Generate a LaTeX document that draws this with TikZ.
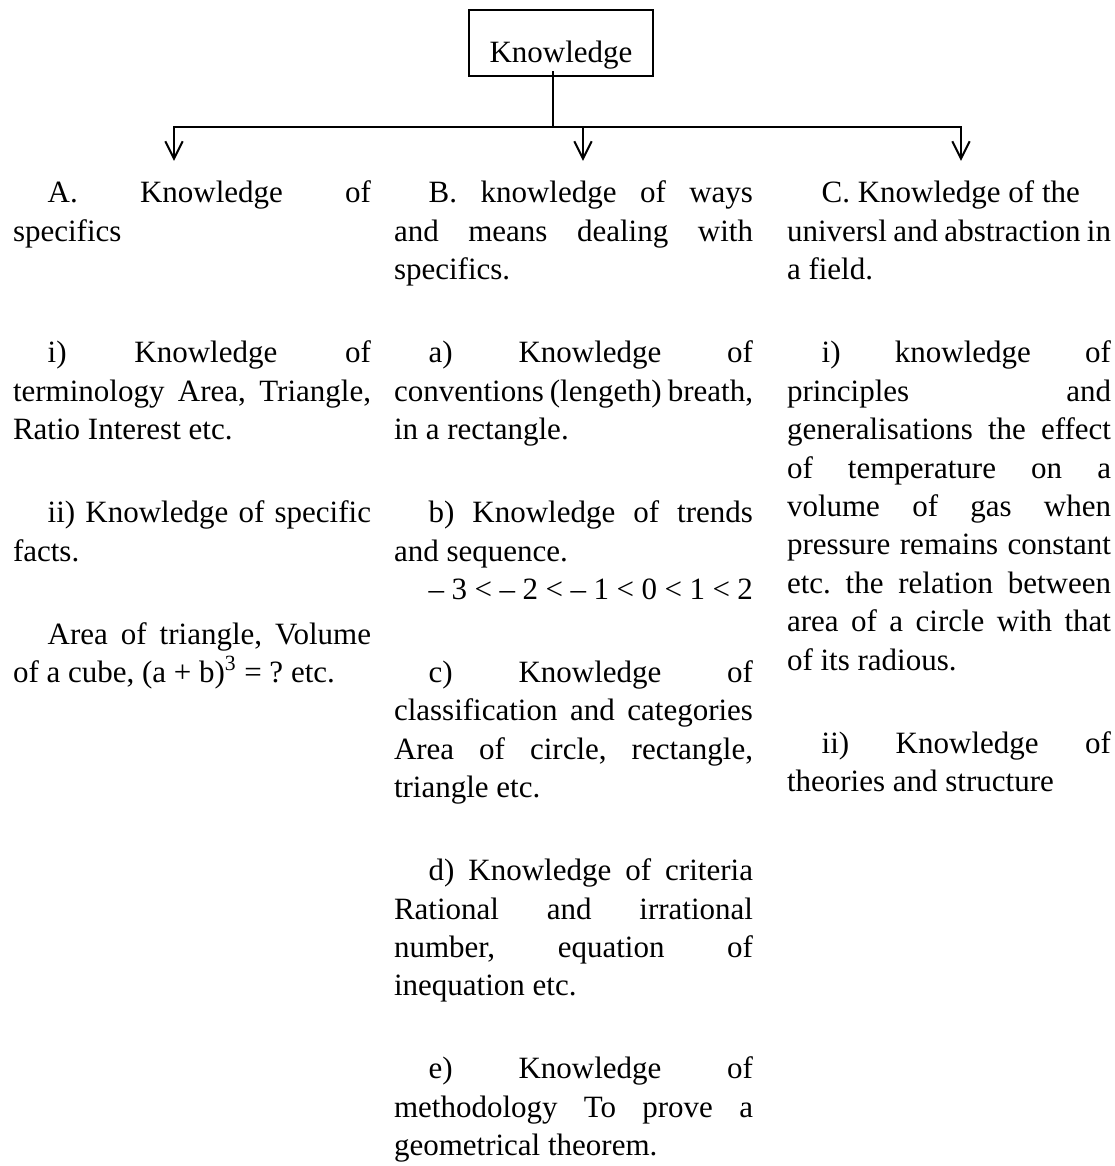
\documentclass[tikz,border=0pt]{standalone}
\usepackage{fontspec}
\setmainfont{Liberation Serif}
\usepackage{tikz}
\usetikzlibrary{arrows.meta}
\setlength{\parindent}{0pt}
\tolerance=9999
\hyphenpenalty=10000
\frenchspacing
\newcommand{\knowfont}{\fontsize{23.25pt}{28.8pt}\selectfont}
\newcommand{\ind}{\hspace*{26pt}}

\begin{document}
\begin{tikzpicture}[x=0.75pt,y=0.75pt,yscale=-1,xscale=1,line width=1.5pt,
  txt/.style={anchor=base west,inner sep=0pt,align=justify,font=\knowfont},
  colA/.style={txt,text width=268.5pt},
  colB/.style={txt,text width=269.25pt},
  colC/.style={txt,text width=243pt},
  kbox/.style={draw,line width=1.6pt,inner sep=0pt,minimum width=138pt,minimum height=49.5pt,text height=33.75pt,text depth=5pt,font=\knowfont},
  down/.style={-{Straight Barb[length=13pt,width=13pt]},shorten >=14.5pt}]
\useasboundingbox (0,0) rectangle (1114,1166);

%Rect
\node[kbox] (know) at (561,43) {Knowledge};

% Text Node
\node[colA] (headA) at (12,203) {\ind A. Knowledge of\linebreak specifics};
% Text Node
\node[colA] (itemAi) at (12,362.8) {\ind i) Knowledge of\linebreak terminology Area, Triangle,\linebreak Ratio Interest etc.};
% Text Node
\node[colA] (itemAii) at (12,522.6) {\ind ii) Knowledge of specific\linebreak facts.};
% Text Node
\node[colA] (itemAiii) at (12,644) {\ind Area of triangle, Volume\linebreak of a cube, (a + b)\textsuperscript{3} = ? etc.};

% Text Node
\node[colB] (headB) at (393,203) {\ind B. knowledge of ways\linebreak and means dealing with\linebreak specifics.};
% Text Node
\node[colB] (itemBa) at (393,362.8) {\ind a) Knowledge of\linebreak conventions (lengeth) breath,\linebreak in a rectangle.};
% Text Node
\node[colB] (itemBb) at (393,522.6) {\ind b) Knowledge of trends\linebreak and sequence.\par\ind – 3 < – 2 < – 1 < 0 < 1 < 2};
% Text Node
\node[colB] (itemBc) at (393,682.4) {\ind c) Knowledge of\linebreak classification and categories\linebreak Area of circle, rectangle,\linebreak triangle etc.};
% Text Node
\node[colB] (itemBd) at (393,880.6) {\ind d) Knowledge of criteria\linebreak Rational and irrational\linebreak number, equation of\linebreak inequation etc.};
% Text Node
\node[colB] (itemBe) at (393,1078.8) {\ind e) Knowledge of\linebreak methodology To prove a\linebreak geometrical theorem.};

% Text Node
\node[colC] (headC) at (786,203) {\ind C. Knowledge of the\newline universl and abstraction in\linebreak a field.};
% Text Node
\node[colC] (itemCi) at (786,362.8) {\ind i) knowledge of\linebreak principles and\linebreak generalisations the effect\linebreak of temperature on a\linebreak volume of gas when\linebreak pressure remains constant\linebreak etc. the relation between\linebreak area of a circle with that\linebreak of its radious.};
% Text Node
\node[colC] (itemCii) at (786,753) {\ind ii) Knowledge of\linebreak theories and structure};

\coordinate (hub) at (553,127.5);
\coordinate (jA) at (174,127.5);
\coordinate (jB) at (583,127.5);
\coordinate (jC) at (961,127.5);

%Straight Lines
\draw[shorten <=-4.5pt] (know.south -| hub) -- (hub);
%Straight Lines
\draw[line cap=rect] (jA) -- (jC);
%Straight Lines
\draw[down] (jA) -- (jA |- headA.north);
\draw[down] (jB) -- (jB |- headB.north);
\draw[down] (jC) -- (jC |- headC.north);

\end{tikzpicture}
\end{document}
